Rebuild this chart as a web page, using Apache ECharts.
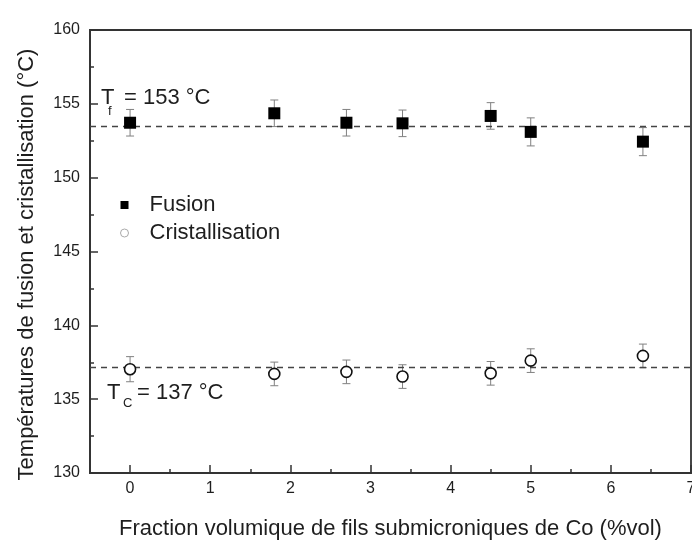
<!DOCTYPE html>
<html>
<head>
<meta charset="utf-8">
<script src="https://cdn.jsdelivr.net/npm/echarts@6/dist/echarts.min.js"></script>
<style>html,body{margin:0;padding:0;background:#fff}#c{width:692px;height:541px}</style>
</head>
<body>
<div id="c"></div>
<script>
// Data
var xValues = [0, 1.8, 2.7, 3.4, 4.5, 5, 6.4];
var fusionValues = [153.72, 154.36, 153.72, 153.68, 154.18, 153.10, 152.44];
var fusionErrors = [0.9, 0.9, 0.9, 0.9, 0.9, 0.95, 0.95];
var crystValues = [137.03, 136.71, 136.85, 136.53, 136.75, 137.61, 137.93];
var crystErrors = [0.85, 0.8, 0.8, 0.8, 0.8, 0.8, 0.8];
var tfLine = 153.45;
var tcLine = 137.15;
var xTickValues = [0, 1, 2, 3, 4, 5, 6, 7];
var xMinorValues = [0.5, 1.5, 2.5, 3.5, 4.5, 5.5, 6.5];
var seriesNames = ['Fusion', 'Cristallisation'];

var FONT = 'Liberation Sans, Arial, sans-serif';
var TXT = '#1e1e1e';
var chart = echarts.init(document.getElementById('c'));

function pairs(xs, ys) { return xs.map(function (x, i) { return [x, ys[i]]; }); }
function errData(xs, ys, es) { return xs.map(function (x, i) { return [x, ys[i] - es[i], ys[i] + es[i]]; }); }
function errRender(params, api) {
  var lo = api.coord([api.value(0), api.value(1)]);
  var hi = api.coord([api.value(0), api.value(2)]);
  var w = 4;
  var st = { stroke: '#808080', lineWidth: 1 };
  return {
    type: 'group',
    children: [
      { type: 'line', shape: { x1: lo[0], y1: lo[1], x2: hi[0], y2: hi[1] }, style: st },
      { type: 'line', shape: { x1: lo[0] - w, y1: lo[1], x2: lo[0] + w, y2: lo[1] }, style: st },
      { type: 'line', shape: { x1: hi[0] - w, y1: hi[1], x2: hi[0] + w, y2: hi[1] }, style: st }
    ]
  };
}

chart.setOption({
  animation: false,
  backgroundColor: '#fff',
  textStyle: { fontFamily: FONT },
  grid: { left: 90, top: 30, right: 1, bottom: 68, show: true, borderColor: '#333', borderWidth: 1.8,
          containLabel: false, outerBoundsMode: 'none' },
  legend: {
    orient: 'vertical', left: 120, top: 194, itemGap: 6, itemWidth: 40, itemHeight: 8, padding: 0,
    textStyle: { fontFamily: FONT, fontSize: 22, color: TXT },
    data: [
      { name: seriesNames[0], icon: 'path://M0,0L10,0L10,10L0,10Z', itemStyle: { color: '#000', borderWidth: 0, opacity: 1 } },
      { name: seriesNames[1], icon: 'path://M10,5A5,5,0,1,1,0,5A5,5,0,1,1,10,5Z', itemStyle: { color: '#fff', borderColor: '#aaa', borderWidth: 1, opacity: 1 } }
    ]
  },
  xAxis: [{
    type: 'value', min: -0.5, max: 7,
    name: 'Fraction volumique de fils submicroniques de Co (%vol)',
    nameLocation: 'middle', nameGap: 45,
    nameTextStyle: { fontFamily: FONT, fontSize: 22, color: TXT },
    axisLine: { onZero: false, lineStyle: { color: '#333', width: 1.8 } },
    axisTick: { inside: true, length: 8, customValues: xTickValues, lineStyle: { color: '#333', width: 1.5 } },
    axisLabel: { customValues: xTickValues, fontSize: 16, color: TXT, margin: 8, fontFamily: FONT, showMaxLabel: true },
    splitLine: { show: false }
  }, {
    type: 'value', min: -0.5, max: 7, position: 'bottom',
    axisLine: { show: false, onZero: false },
    axisTick: { inside: true, length: 4, customValues: xMinorValues, lineStyle: { color: '#333', width: 1.5 } },
    axisLabel: { show: false },
    splitLine: { show: false }
  }],
  yAxis: {
    type: 'value', min: 130, max: 160, interval: 5,
    name: 'Températures de fusion et cristallisation (°C)',
    nameLocation: 'middle', nameGap: 52, nameRotate: 90,
    nameTextStyle: { fontFamily: FONT, fontSize: 22, color: TXT, padding: [0, 26, 0, 0] },
    axisLine: { show: true, onZero: false, lineStyle: { color: '#333', width: 1.8 } },
    axisTick: { show: true, inside: true, length: 8, lineStyle: { color: '#333', width: 1.5 } },
    minorTick: { show: true, splitNumber: 2, length: 4, lineStyle: { color: '#333', width: 1.5 } },
    axisLabel: { fontSize: 16, color: TXT, margin: 10, fontFamily: FONT },
    splitLine: { show: false }
  },
  series: [
    {
      type: 'custom', name: 'errF', xAxisIndex: 0, renderItem: errRender, silent: true, z: 2,
      data: errData(xValues, fusionValues, fusionErrors)
    },
    {
      type: 'custom', name: 'errC', xAxisIndex: 0, renderItem: errRender, silent: true, z: 2,
      data: errData(xValues, crystValues, crystErrors)
    },
    {
      type: 'scatter', name: seriesNames[0], xAxisIndex: 0, symbol: 'rect', symbolSize: 12, z: 5,
      itemStyle: { color: '#000', opacity: 1 },
      data: pairs(xValues, fusionValues),
      markLine: {
        silent: true, symbol: 'none', label: { show: false },
        lineStyle: { color: '#444', type: [6, 5], width: 1.4, opacity: 1 },
        data: [{ yAxis: tfLine }, { yAxis: tcLine }]
      }
    },
    {
      type: 'scatter', name: seriesNames[1], xAxisIndex: 0, symbol: 'circle', symbolSize: 11, z: 5,
      itemStyle: { color: '#fff', borderColor: '#111', borderWidth: 1.6, opacity: 1 },
      data: pairs(xValues, crystValues)
    }
  ],
  graphic: [
    { type: 'text', left: 101, top: 87, style: { text: 'T', font: '22px ' + FONT, fill: TXT } },
    { type: 'text', left: 108, top: 105, style: { text: 'f', font: '13px ' + FONT, fill: TXT } },
    { type: 'text', left: 124, top: 87, style: { text: '= 153 °C', font: '22px ' + FONT, fill: TXT } },
    { type: 'text', left: 107, top: 382, style: { text: 'T', font: '22px ' + FONT, fill: TXT } },
    { type: 'text', left: 123, top: 397, style: { text: 'C', font: '13px ' + FONT, fill: TXT } },
    { type: 'text', left: 137, top: 382, style: { text: '= 137 °C', font: '22px ' + FONT, fill: TXT } }
  ]
});
</script>
</body>
</html>
